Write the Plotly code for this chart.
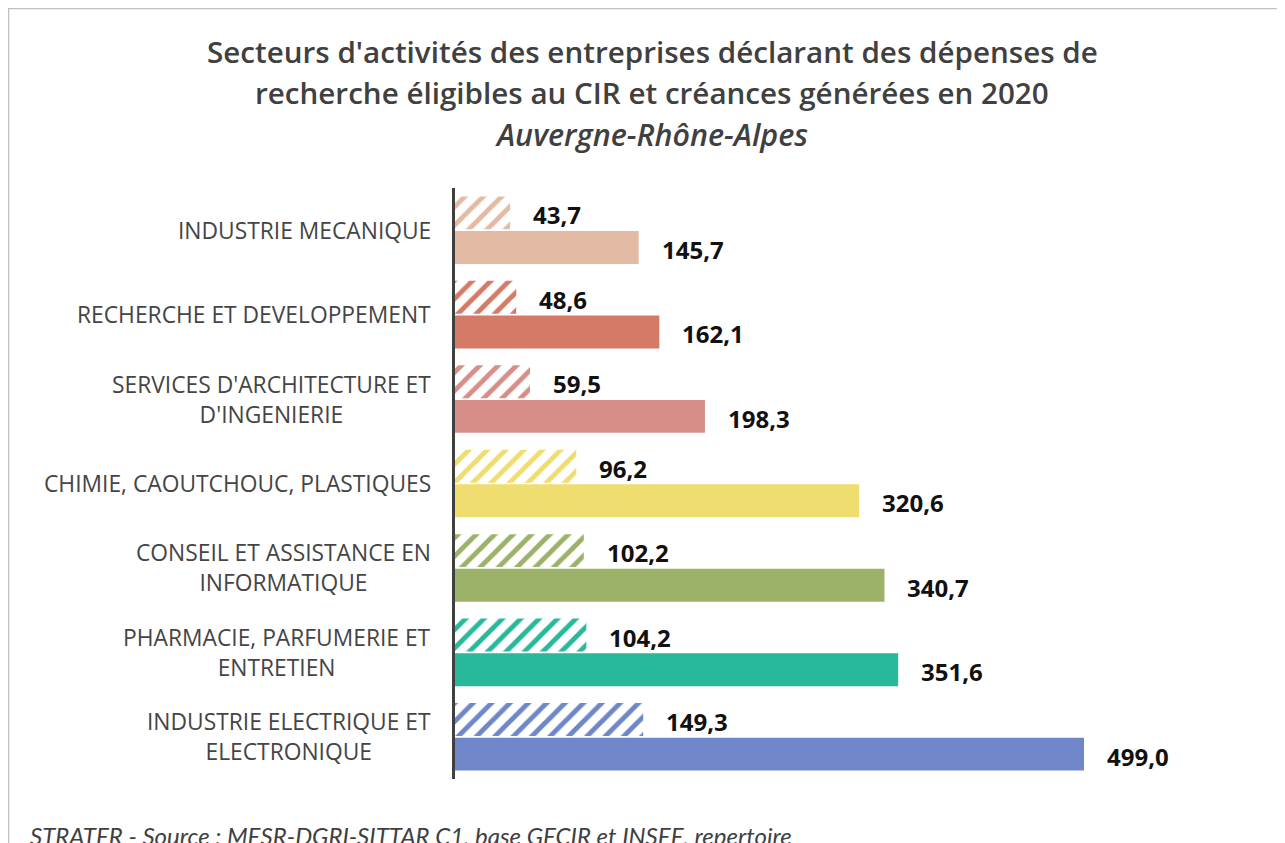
import plotly.graph_objects as go

# Data (top to bottom as displayed)
categories = [
    "INDUSTRIE MECANIQUE",
    "RECHERCHE ET DEVELOPPEMENT",
    "SERVICES D'ARCHITECTURE ET<br>D'INGENIERIE",
    "CHIMIE, CAOUTCHOUC, PLASTIQUES",
    "CONSEIL ET ASSISTANCE EN<br>INFORMATIQUE",
    "PHARMACIE, PARFUMERIE ET<br>ENTRETIEN",
    "INDUSTRIE ELECTRIQUE ET<br>ELECTRONIQUE",
]
creances = [43.7, 48.6, 59.5, 96.2, 102.2, 104.2, 149.3]
depenses = [145.7, 162.1, 198.3, 320.6, 340.7, 351.6, 499.0]
colors = ["#E3BBA4", "#D47A66", "#D88E88", "#EFDD70", "#9BB268", "#27B99A", "#6F87C8"]

# page offset (default body margin) and figure geometry in figure pixels
OFF = 8
W, H = 1285 - OFF, 843 - OFF
L, T = 455 - OFF, 188 - OFF
PW = 756
PH = (779 - OFF) - T
R = W - L - PW
B = H - T - PH


def px(x):
    """page pixel x -> paper coordinate"""
    return (x - OFF - L) / PW


def py(y):
    """page pixel y -> paper coordinate"""
    return (T + PH - (y - OFF)) / PH


def fmt(v):
    return f"{v:.1f}".replace(".", ",")


n = len(categories)
pos = [n - 1 - k for k in range(n)]
off = 0.205
bw = 0.39
y_hatch = [p + off for p in pos]
y_solid = [p - off for p in pos]

fig = go.Figure()
fig.add_trace(go.Bar(
    x=creances, y=y_hatch, orientation="h", width=bw,
    marker=dict(color=colors, line=dict(width=0),
                pattern=dict(shape="/", fillmode="replace", bgcolor="white",
                             fgcolor=colors, size=13, solidity=0.38)),
    hoverinfo="x", showlegend=False,
))
fig.add_trace(go.Bar(
    x=depenses, y=y_solid, orientation="h", width=bw,
    marker=dict(color=colors, line=dict(width=0)),
    hoverinfo="x", showlegend=False,
))

val_font = dict(family="Open Sans", size=24, color="#111111", weight="bold")
annotations = []
for v, y in zip(creances, y_hatch):
    annotations.append(dict(x=v, y=y, xref="x", yref="y", text=fmt(v), showarrow=False,
                            xanchor="left", yanchor="middle", xshift=21, yshift=-2,
                            font=val_font))
for v, y in zip(depenses, y_solid):
    annotations.append(dict(x=v, y=y, xref="x", yref="y", text=fmt(v), showarrow=False,
                            xanchor="left", yanchor="middle", xshift=21, yshift=-2,
                            font=val_font))
for c, p in zip(categories, pos):
    annotations.append(dict(x=0, y=p, xref="paper", yref="y", text=c, showarrow=False,
                            xanchor="right", yanchor="middle", align="center", xshift=-22,
                            font=dict(family="Open Sans", size=22.8, color="#454545")))

title_font = dict(family="Open Sans", size=29.6, color="#404040", weight=600)
annotations += [
    dict(x=px(652), y=py(52), xref="paper", yref="paper", showarrow=False,
         text="Secteurs d'activités des entreprises déclarant des dépenses de",
         xanchor="center", yanchor="middle", font=title_font),
    dict(x=px(652), y=py(93), xref="paper", yref="paper", showarrow=False,
         text="recherche éligibles au CIR et créances générées en 2020",
         xanchor="center", yanchor="middle", font=title_font),
    dict(x=px(651), y=py(134), xref="paper", yref="paper", showarrow=False,
         text="<i>Auvergne-Rhône-Alpes</i>",
         xanchor="center", yanchor="middle",
         font=dict(family="Open Sans", size=30.5, color="#404040", weight=600)),
    dict(x=px(28), y=py(835), xref="paper", yref="paper", showarrow=False,
         text="<i>STRATER - Source : MESR-DGRI-SITTAR C1, base GECIR et INSEE, repertoire</i>",
         xanchor="left", yanchor="middle",
         font=dict(family="Lato", size=24, color="#404040")),
]

shapes = [dict(type="path", xref="paper", yref="paper",
               path=f"M {px(8)},{py(900)} L {px(8)},{py(8)} L {px(1300)},{py(8)}",
               line=dict(color="#C0C0C0", width=2.5))]

fig.update_layout(
    width=W, height=H,
    margin=dict(l=L, r=R, t=T, b=B),
    paper_bgcolor="white", plot_bgcolor="white",
    barmode="overlay",
    xaxis=dict(range=[0, PW / 1.2605], visible=False, showgrid=False, zeroline=False),
    yaxis=dict(range=[-0.5, n - 0.5], showticklabels=False, showgrid=False, zeroline=False,
               showline=True, linecolor="#404040", linewidth=3, ticks=""),
    annotations=annotations,
    shapes=shapes,
)

fig.write_html("out.html")
